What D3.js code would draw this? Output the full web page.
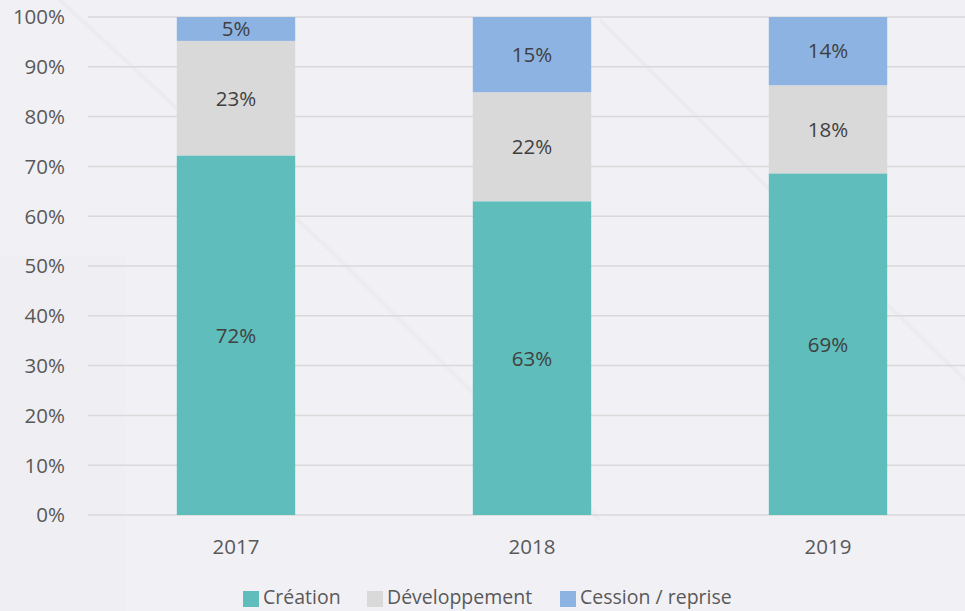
<!DOCTYPE html>
<html>
<head>
<meta charset="utf-8">
<script src="https://cdn.jsdelivr.net/npm/d3@7"></script>
<style>
  html, body { margin: 0; padding: 0; background: #f1f0f5; }
  svg { display: block; font-family: "Open Sans", sans-serif; }
</style>
</head>
<body>
<div id="chart"></div>
<script>
// data
const years = ["2017", "2018", "2019"];
const creation = [72.2, 63.0, 68.6];
const developpement = [23.0, 21.9, 17.7];
const cession = [4.8, 15.1, 13.7];
const seriesNames = ["Création", "Développement", "Cession / reprise"];
const seriesColors = ["#5fbdbb", "#d9d9d9", "#8db3e2"];
const yTicks = [0, 10, 20, 30, 40, 50, 60, 70, 80, 90, 100];

const width = 965;
const height = 611;
const margin = { top: 17, right: -11, bottom: 96, left: 88 };

const svg = d3.select("#chart")
  .append("svg")
  .attr("width", width)
  .attr("height", height);

// background
svg.append("rect")
  .attr("width", width)
  .attr("height", height)
  .attr("fill", "#f1f0f5");

// faint decorative shapes behind the chart
const deco = svg.append("g").attr("fill", "none").attr("stroke", "#ecebf0");
deco.append("path").attr("d", "M60,0 L330,250 L600,520").attr("stroke-width", 4);
deco.append("path").attr("d", "M600,20 L760,180 L965,380").attr("stroke-width", 4);
deco.append("rect").attr("x", 0).attr("y", 255).attr("width", 125).attr("height", 356).attr("fill", "#efeef3").attr("stroke", "none");

const x = d3.scaleBand()
  .domain(years)
  .range([margin.left, width - margin.right])
  .paddingInner(0.6)
  .paddingOuter(0.3);

const y = d3.scaleLinear()
  .domain([0, 100])
  .range([height - margin.bottom, margin.top]);

// gridlines
svg.append("g")
  .selectAll("line")
  .data(yTicks)
  .join("line")
  .attr("x1", margin.left)
  .attr("x2", width)
  .attr("y1", d => y(d))
  .attr("y2", d => y(d))
  .attr("stroke", "#d9d9d9")
  .attr("stroke-width", 1.5);

// y tick labels
svg.append("g")
  .selectAll("text")
  .data(yTicks)
  .join("text")
  .attr("x", 65)
  .attr("y", d => y(d))
  .attr("dy", "0.36em")
  .attr("text-anchor", "end")
  .attr("font-size", 20.5)
  .attr("fill", "#595959")
  .text(d => d + "%");

// stack
const rows = years.map((yr, i) => ({
  year: yr,
  "Création": creation[i],
  "Développement": developpement[i],
  "Cession / reprise": cession[i]
}));
const stacked = d3.stack().keys(seriesNames)(rows);

const layers = svg.append("g")
  .selectAll("g")
  .data(stacked)
  .join("g")
  .attr("fill", (d, i) => seriesColors[i]);

layers.selectAll("rect")
  .data(d => d)
  .join("rect")
  .attr("x", d => x(d.data.year))
  .attr("width", x.bandwidth())
  .attr("y", d => y(d[1]))
  .attr("height", d => y(d[0]) - y(d[1]));

// value labels
layers.selectAll("text")
  .data(d => d)
  .join("text")
  .attr("x", d => x(d.data.year) + x.bandwidth() / 2)
  .attr("y", d => (y(d[0]) + y(d[1])) / 2)
  .attr("dy", "0.36em")
  .attr("text-anchor", "middle")
  .attr("font-size", 20.5)
  .attr("fill", "#404040")
  .text(d => Math.round(d[1] - d[0]) + "%");

// x labels
svg.append("g")
  .selectAll("text")
  .data(years)
  .join("text")
  .attr("x", d => x(d) + x.bandwidth() / 2)
  .attr("y", 547)
  .attr("dy", "0.36em")
  .attr("text-anchor", "middle")
  .attr("font-size", 20.5)
  .attr("fill", "#595959")
  .text(d => d);

// legend
const legendX = [243, 367, 560];
const legend = svg.append("g")
  .selectAll("g")
  .data(seriesNames)
  .join("g")
  .attr("transform", (d, i) => `translate(${legendX[i]},597)`);

legend.append("rect")
  .attr("x", 0)
  .attr("y", -6)
  .attr("width", 16)
  .attr("height", 16)
  .attr("fill", (d, i) => seriesColors[i]);

legend.append("text")
  .attr("x", 20)
  .attr("y", 0)
  .attr("dy", "0.36em")
  .attr("font-size", 19.5)
  .attr("fill", "#595959")
  .text(d => d);
</script>
</body>
</html>
